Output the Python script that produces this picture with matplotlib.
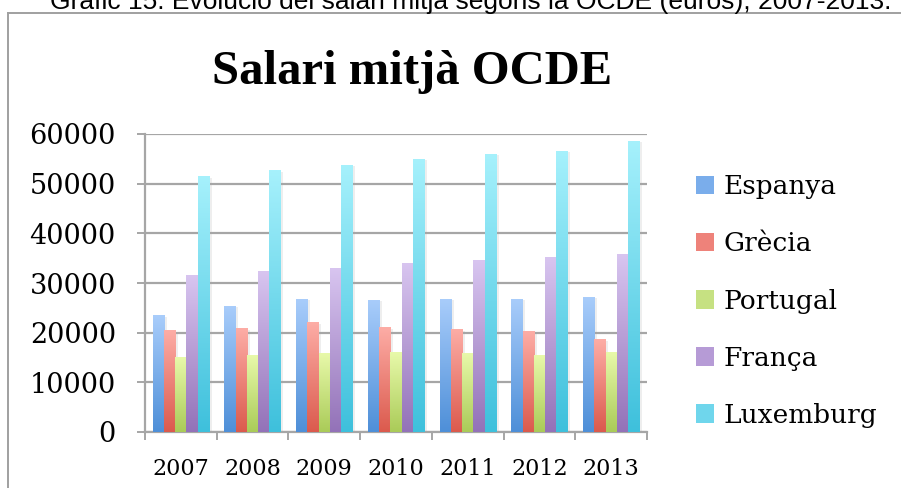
import numpy as np
import matplotlib
matplotlib.use("Agg")
import matplotlib.pyplot as plt
from matplotlib.patches import Patch
from matplotlib.lines import Line2D
from matplotlib.colors import to_rgb
import matplotlib.patheffects as pe

years = ["2007", "2008", "2009", "2010", "2011", "2012", "2013"]
espanya = [23500, 25400, 26800, 26600, 26800, 26800, 27200]
grecia = [20500, 20900, 22100, 21100, 20700, 20300, 18700]
portugal = [15100, 15500, 15900, 16100, 15900, 15500, 16100]
franca = [31600, 32400, 33000, 34000, 34600, 35200, 35800]
luxemburg = [51500, 52700, 53800, 55000, 56000, 56600, 58600]

series_names = ["Espanya", "Grècia", "Portugal", "França", "Luxemburg"]
series_values = [espanya, grecia, portugal, franca, luxemburg]
top_colors = ["#A9CDFB", "#FDADA6", "#E8F9AA", "#D8C5F0", "#A6F1FC"]
bottom_colors = ["#4E8FD8", "#DB5A4D", "#AACB58", "#9372B8", "#3EC0DC"]
legend_colors = ["#7AADEB", "#EE827A", "#C6E182", "#B69BD6", "#6FD6EC"]

title = "Salari mitjà OCDE"
caption = "Gràfic 15: Evolució del salari mitjà segons la OCDE (euros), 2007-2013."

W, H = 901, 488
fig = plt.figure(figsize=(W / 100, H / 100), dpi=100)
ax = fig.add_axes([145 / W, (H - 432) / H, (647 - 145) / W, (432 - 134) / H])

grid_c = "#A6A6A6"
x = np.arange(len(years))
bw = 0.157
n = len(series_names)

for i, (vals, tc, bc) in enumerate(zip(series_values, top_colors, bottom_colors)):
    offs = (i - (n - 1) / 2) * bw
    bars = ax.bar(x + offs, vals, width=bw, facecolor="none", edgecolor="none", zorder=3)
    grad = np.linspace(0, 1, 256)[:, None, None]
    t = np.array(to_rgb(tc))[None, None, :]
    b = np.array(to_rgb(bc))[None, None, :]
    img = t * (1 - grad) + b * grad
    for rect in bars:
        rect.set_path_effects([pe.SimplePatchShadow(offset=(2, -1), shadow_rgbFace="#AAAAAA", alpha=0.2),
                               pe.Normal()])
        x0 = rect.get_x()
        h = rect.get_height()
        im = ax.imshow(img, extent=(x0, x0 + bw, 0, h), origin="upper", aspect="auto",
                       zorder=4, interpolation="bilinear")
        im.set_clip_path(rect)

ax.set_xlim(-0.5, len(years) - 0.5)
ax.set_ylim(0, 60000)
ax.set_yticks(np.arange(0, 60001, 10000))
ax.set_yticklabels([str(v) for v in range(0, 60001, 10000)], family="DejaVu Serif", fontsize=19.5)
ax.yaxis.grid(True, color=grid_c, linewidth=1.6, zorder=0)
ax.set_axisbelow(True)
ax.tick_params(axis="y", length=6, width=1.4, color=grid_c, pad=15)

ax.set_xticks(x)
ax.set_xticklabels(years, family="DejaVu Serif", fontsize=16)
ax.set_xticks(np.arange(-0.5, len(years)), minor=True)
ax.tick_params(axis="x", which="major", length=0, pad=19)
ax.tick_params(axis="x", which="minor", length=6, width=1.4, color=grid_c)

for s in ["top", "right"]:
    ax.spines[s].set_visible(False)
for s in ["left", "bottom"]:
    ax.spines[s].set_color(grid_c)
    ax.spines[s].set_linewidth(1.6)

handles = [Patch(facecolor=c, edgecolor="none") for c in legend_colors]
fig.legend(handles, series_names, loc="center left", bbox_to_anchor=(696 / W, (H - 301) / H),
           frameon=False, borderpad=0, borderaxespad=0, handlelength=0.7, handleheight=0.7,
           handletextpad=0.35, labelspacing=1.22, prop={"family": "DejaVu Serif", "size": 19})

fig.text(412 / W, (H - 72) / H, title, ha="center", va="center", fontsize=35, fontweight="bold",
         family=["Liberation Serif", "DejaVu Serif"])
fig.text(471 / W, (H - 9) / H, caption, ha="center", va="baseline", fontsize=19,
         family=["Liberation Sans", "DejaVu Sans"])

fig.add_artist(Line2D([8 / W, 1], [(H - 13) / H, (H - 13) / H], color="#A0A0A0", linewidth=1.4))
fig.add_artist(Line2D([8 / W, 8 / W], [0, (H - 13) / H], color="#A0A0A0", linewidth=1.4))

fig.savefig("out.png", dpi=100)
